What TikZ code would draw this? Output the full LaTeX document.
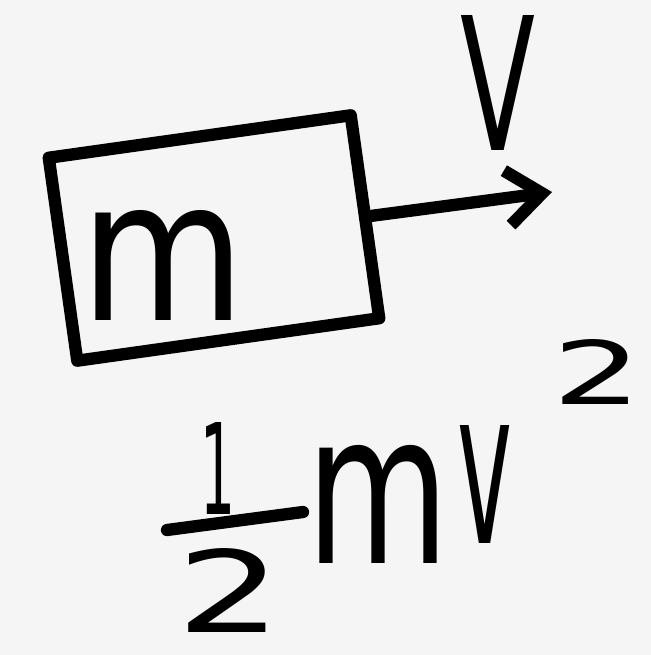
\documentclass[tikz,border=0pt]{standalone}
\usepackage{fontspec}
\setmainfont{DejaVu Sans}
\usepackage{graphicx}
\usetikzlibrary{positioning, arrows.meta}
\definecolor{sheet}{RGB}{245,245,245}
\definecolor{ink}{RGB}{0,0,0}
\newlength\pxu
\setlength\pxu{0.02cm}
\newcommand\hand[3]{\resizebox{#1\pxu}{#2\pxu}{#3}}

\begin{document}
\begin{tikzpicture}[x=0.02cm, y=-0.02cm, line cap=round, line join=round,
  massbox/.style={rectangle, draw=ink, line width=7pt, rotate=8,
                  minimum width=6.1cm, minimum height=4.1cm},
  glyph/.style={inner sep=0pt, text=ink},
  stroke/.style={draw=ink, line width=7pt},
  arr/.style={-{Straight Barb[length=7mm, width=11mm]}, draw=ink, line width=7pt}]
\fill[sheet] (0,0) rectangle (651,655);
\useasboundingbox (0,0) rectangle (651,655);
\node[massbox] (box) at (214,238) {};
\node[glyph] (mass) at (163,265) {\hand{165}{110}{m}};
\coordinate (tip) at (552,192);
\draw[arr] (box.east) -- (tip);
\node[glyph] (vel) at (498,83) {\hand{75}{135}{V}};
% one half m v squared
\node[glyph] (one) at (218,468) {\hand{35}{92}{1}};
\coordinate (barL) at (167,530);
\coordinate (barR) at (303,512);
\draw[stroke] (barL) -- (barR);
\node[glyph] (two) at (230,590) {\hand{106}{84}{2}};
\node[glyph] (em) at (378,504) {\hand{143}{118}{m}};
\node[glyph] (vee) at (485,484) {\hand{55}{118}{v}};
\node[glyph] (sq) at (598,372) {\hand{90}{65}{2}};
\end{tikzpicture}
\end{document}
